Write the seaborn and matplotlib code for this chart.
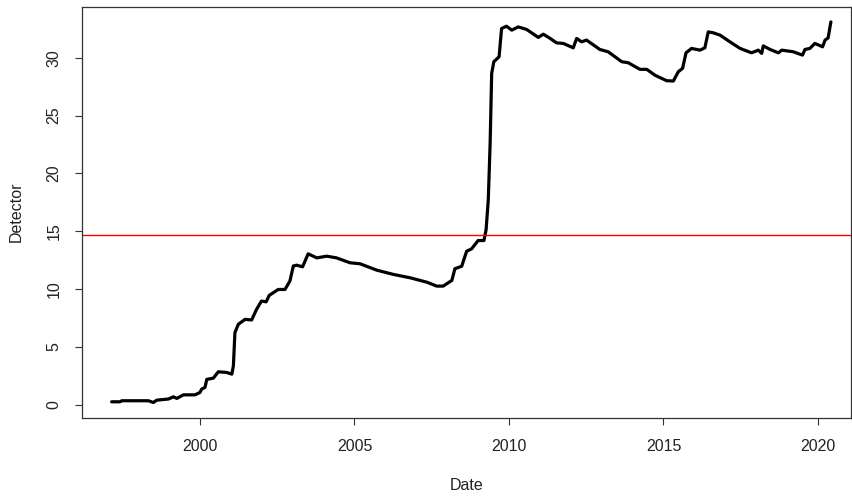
import matplotlib
matplotlib.use("Agg")
import matplotlib.pyplot as plt
import seaborn as sns
import pandas as pd

# Data (decimal year, detector value)
years = [1997.14, 1997.41, 1997.47, 1998.33, 1998.49, 1998.60, 1998.98, 1999.14, 1999.25,
         1999.46, 1999.84, 2000.00, 2000.05, 2000.16, 2000.22, 2000.43, 2000.59, 2000.86,
         2001.03, 2001.08, 2001.13, 2001.24, 2001.46, 2001.67, 2001.83, 2001.99, 2002.14,
         2002.24, 2002.53, 2002.75, 2002.91, 2003.02, 2003.13, 2003.32, 2003.50, 2003.78,
         2004.10, 2004.42, 2004.85, 2005.18, 2005.72, 2006.26, 2006.80, 2007.34, 2007.66,
         2007.87, 2008.15, 2008.25, 2008.47, 2008.63, 2008.79, 2009.00, 2009.19, 2009.26,
         2009.33, 2009.39, 2009.44, 2009.51, 2009.68, 2009.76, 2009.92, 2010.09, 2010.30,
         2010.57, 2010.95, 2011.11, 2011.33, 2011.54, 2011.76, 2012.08, 2012.19, 2012.35,
         2012.51, 2012.94, 2013.21, 2013.65, 2013.86, 2014.24, 2014.46, 2014.72, 2015.10,
         2015.32, 2015.48, 2015.62, 2015.73, 2015.91, 2016.18, 2016.34, 2016.45, 2016.61,
         2016.83, 2017.15, 2017.48, 2017.85, 2018.07, 2018.18, 2018.23, 2018.45, 2018.72,
         2018.83, 2019.20, 2019.50, 2019.58, 2019.74, 2019.90, 2020.15, 2020.23, 2020.33,
         2020.39, 2020.42]
detector = [0.26, 0.26, 0.35, 0.35, 0.20, 0.40, 0.50, 0.69, 0.55,
            0.86, 0.86, 1.07, 1.35, 1.50, 2.20, 2.30, 2.85, 2.80,
            2.65, 3.36, 6.24, 6.96, 7.39, 7.33, 8.25, 8.97, 8.90,
            9.46, 9.97, 9.97, 10.70, 12.00, 12.07, 11.93, 13.05, 12.70,
            12.85, 12.70, 12.28, 12.19, 11.64, 11.27, 10.98, 10.60, 10.26,
            10.26, 10.75, 11.76, 11.98, 13.28, 13.48, 14.20, 14.20, 15.15,
            17.70, 22.60, 28.65, 29.66, 30.09, 32.53, 32.73, 32.39, 32.67,
            32.45, 31.76, 32.04, 31.68, 31.29, 31.24, 30.86, 31.67, 31.38,
            31.53, 30.72, 30.52, 29.66, 29.57, 29.00, 29.00, 28.50, 28.02,
            27.99, 28.79, 29.09, 30.43, 30.81, 30.66, 30.86, 32.24, 32.16,
            31.96, 31.38, 30.81, 30.43, 30.66, 30.38, 31.03, 30.72, 30.43,
            30.66, 30.52, 30.23, 30.72, 30.81, 31.24, 30.95, 31.53, 31.72,
            32.67, 33.10]
threshold = 14.7
x_ticks = [2000, 2005, 2010, 2015, 2020]
y_ticks = [0, 5, 10, 15, 20, 25, 30]

df = pd.DataFrame({"Date": years, "Detector": detector})

sns.set_style("ticks")
plt.rcParams["font.family"] = ["Liberation Sans", "DejaVu Sans"]

L, R, T, B = 82.3, 851.0, 6.7, 417.7
W, H = R - L, B - T
fig = plt.figure(figsize=(8.52, 4.99), dpi=100)
ax = fig.add_axes([L / 852, 1 - B / 499, W / 852, H / 499])

sns.lineplot(data=df, x="Date", y="Detector", color="black", linewidth=2.3,
             estimator=None, sort=False, ax=ax)
ax.axhline(threshold, color="#ff0000", linewidth=1.0)

ax.set_xlim(1996.19, 2021.07)
span_y = max(detector) - min(detector)
ax.set_ylim(min(detector) - 0.04 * span_y, max(detector) + 0.04 * span_y)

ax.set_xticks(x_ticks)
ax.set_yticks(y_ticks)
ax.set_xticklabels([str(t) for t in x_ticks])
ax.set_yticklabels([str(t) for t in y_ticks], rotation=90, va="center")

txt_color = "#222222"
ax.tick_params(axis="both", direction="out", length=5, width=0.8, color="#333333",
               labelsize=11.5, labelcolor=txt_color)
ax.tick_params(axis="x", pad=10)
ax.tick_params(axis="y", pad=10)
for s in ax.spines.values():
    s.set_visible(True)
    s.set_color("#333333")
    s.set_linewidth(0.9)

ax.set_xlabel("Date", fontsize=11.5, color=txt_color)
ax.set_ylabel("Detector", fontsize=11.5, color=txt_color)
ax.xaxis.set_label_coords(0.5, -(478 - B) / H)
ax.yaxis.set_label_coords(-(L - 24) / W, 0.5)

fig.savefig("out.png", dpi=100)
